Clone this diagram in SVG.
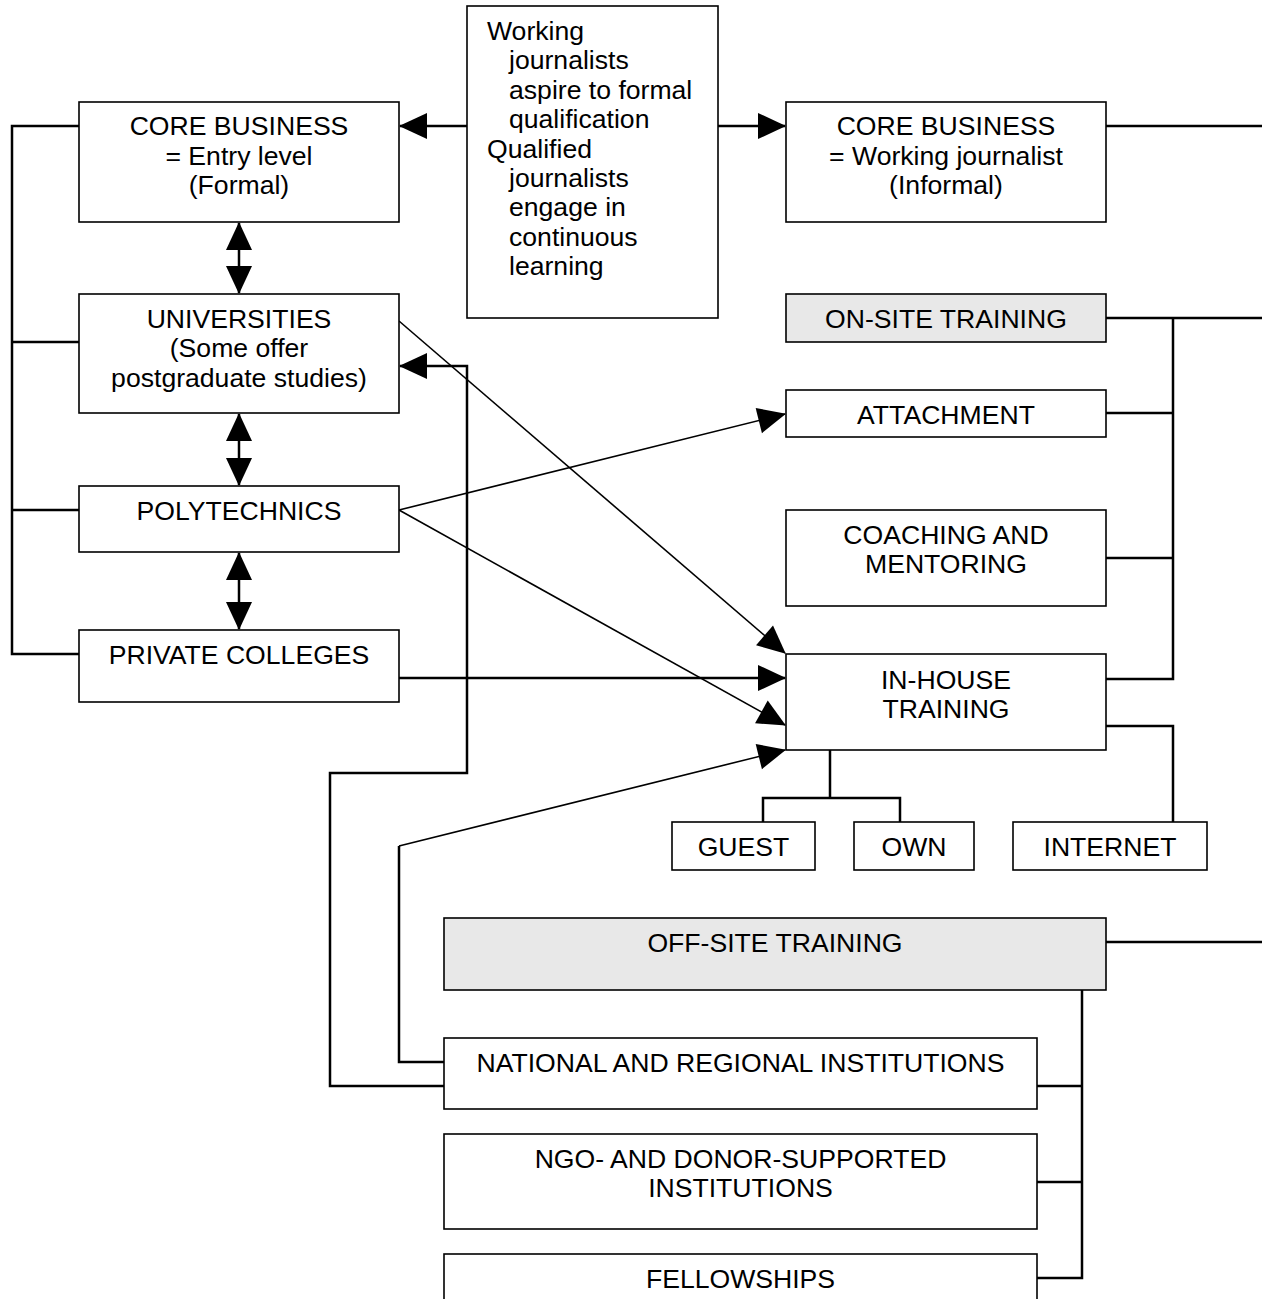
<svg xmlns="http://www.w3.org/2000/svg" width="1262" height="1299" viewBox="0 0 1262 1299">
<defs>
<marker id="ah" markerUnits="userSpaceOnUse" markerWidth="30" markerHeight="28" refX="27" refY="13" orient="auto-start-reverse" overflow="visible">
<path d="M0,0 L28,13 L0,26 z" fill="#000"/>
</marker>
</defs>
<style>
.box{fill:#fff;stroke:#000;stroke-width:1.6}
.gray{fill:#e8e8e8;stroke:#000;stroke-width:1.6}
text{font-family:"Liberation Sans",Arial,sans-serif;font-size:26.6px;fill:#000}
.c{text-anchor:middle}
.w{fill:none;stroke:#000;stroke-width:2.5}
.t{fill:none;stroke:#000;stroke-width:1.6}
</style>
<rect width="1262" height="1299" fill="#fff"/>

<g id="connectors">
<path class="w" d="M79,126 H12 V654 H79 M12,342 H79 M12,510 H79"/>
<path class="w" d="M1106,126 H1262 M1106,318 H1262 M1173,318 V679 H1106 M1106,413 H1173 M1106,558 H1173 M1106,726 H1173 V822"/>
<path class="w" d="M830,750 V798 M763,822 V798 H900 V822"/>
<path class="w" d="M1106,942 H1262 M1082,990 V1278 H1037 M1037,1086 H1082 M1037,1182 H1082"/>
<path class="w" d="M467,126 H400" marker-end="url(#ah)"/>
<path class="w" d="M718,126 H785" marker-end="url(#ah)"/>
<path class="w" d="M239,223 V293" marker-start="url(#ah)" marker-end="url(#ah)"/>
<path class="w" d="M239,414 V485" marker-start="url(#ah)" marker-end="url(#ah)"/>
<path class="w" d="M239,553 V629" marker-start="url(#ah)" marker-end="url(#ah)"/>
<path class="t" d="M399,321 L785,653" marker-end="url(#ah)"/>
<path class="t" d="M399,510 L785,414" marker-end="url(#ah)"/>
<path class="t" d="M399,510 L785,725" marker-end="url(#ah)"/>
<path class="w" d="M399,678 H785" marker-end="url(#ah)"/>
<path class="w" d="M444,1062 H399 V846" />
<path class="t" d="M399,846 L785,750" marker-end="url(#ah)"/>
<path class="w" d="M444,1086 H330 V773 H467 V366 H400" marker-end="url(#ah)"/>
</g>

<g id="core-formal">
<rect class="box" x="79" y="102" width="320" height="120"/>
<text class="c" x="239" y="135">CORE BUSINESS</text>
<text class="c" x="239" y="164.5">= Entry level</text>
<text class="c" x="239" y="194">(Formal)</text>
</g>
<g id="aspire">
<rect class="box" x="467" y="6" width="251" height="312"/>
<text x="487" y="40">Working</text>
<text x="509" y="69.4">journalists</text>
<text x="509" y="98.8">aspire to formal</text>
<text x="509" y="128.2">qualification</text>
<text x="487" y="157.6">Qualified</text>
<text x="509" y="187">journalists</text>
<text x="509" y="216.4">engage in</text>
<text x="509" y="245.8">continuous</text>
<text x="509" y="275.2">learning</text>
</g>
<g id="core-informal">
<rect class="box" x="786" y="102" width="320" height="120"/>
<text class="c" x="946" y="135">CORE BUSINESS</text>
<text class="c" x="946" y="164.5">= Working journalist</text>
<text class="c" x="946" y="194">(Informal)</text>
</g>
<g id="universities">
<rect class="box" x="79" y="294" width="320" height="119"/>
<text class="c" x="239" y="327.5">UNIVERSITIES</text>
<text class="c" x="239" y="357">(Some offer</text>
<text class="c" x="239" y="386.5">postgraduate studies)</text>
</g>
<g id="polytechnics">
<rect class="box" x="79" y="486" width="320" height="66"/>
<text class="c" x="239" y="519.5">POLYTECHNICS</text>
</g>
<g id="private-colleges">
<rect class="box" x="79" y="630" width="320" height="72"/>
<text class="c" x="239" y="663.5">PRIVATE COLLEGES</text>
</g>
<g id="on-site">
<rect class="gray" x="786" y="294" width="320" height="48"/>
<text class="c" x="946" y="327.5">ON-SITE TRAINING</text>
</g>
<g id="attachment">
<rect class="box" x="786" y="390" width="320" height="47"/>
<text class="c" x="946" y="423.5">ATTACHMENT</text>
</g>
<g id="coaching">
<rect class="box" x="786" y="510" width="320" height="96"/>
<text class="c" x="946" y="543.5">COACHING AND</text>
<text class="c" x="946" y="573">MENTORING</text>
</g>
<g id="in-house">
<rect class="box" x="786" y="654" width="320" height="96"/>
<text class="c" x="946" y="688.5">IN-HOUSE</text>
<text class="c" x="946" y="717.5">TRAINING</text>
</g>
<g id="guest">
<rect class="box" x="672" y="822" width="143" height="48"/>
<text class="c" x="743.5" y="855.5">GUEST</text>
</g>
<g id="own">
<rect class="box" x="854" y="822" width="120" height="48"/>
<text class="c" x="914" y="855.5">OWN</text>
</g>
<g id="internet">
<rect class="box" x="1013" y="822" width="194" height="48"/>
<text class="c" x="1110" y="855.5">INTERNET</text>
</g>
<g id="off-site">
<rect class="gray" x="444" y="918" width="662" height="72"/>
<text class="c" x="775" y="951.5">OFF-SITE TRAINING</text>
</g>
<g id="national">
<rect class="box" x="444" y="1038" width="593" height="71"/>
<text class="c" x="740.5" y="1071.5">NATIONAL AND REGIONAL INSTITUTIONS</text>
</g>
<g id="ngo">
<rect class="box" x="444" y="1134" width="593" height="95"/>
<text class="c" x="740.5" y="1167.5">NGO- AND DONOR-SUPPORTED</text>
<text class="c" x="740.5" y="1197">INSTITUTIONS</text>
</g>
<g id="fellowships">
<rect class="box" x="444" y="1254" width="593" height="70"/>
<text class="c" x="740.5" y="1287.5">FELLOWSHIPS</text>
</g>
</svg>
